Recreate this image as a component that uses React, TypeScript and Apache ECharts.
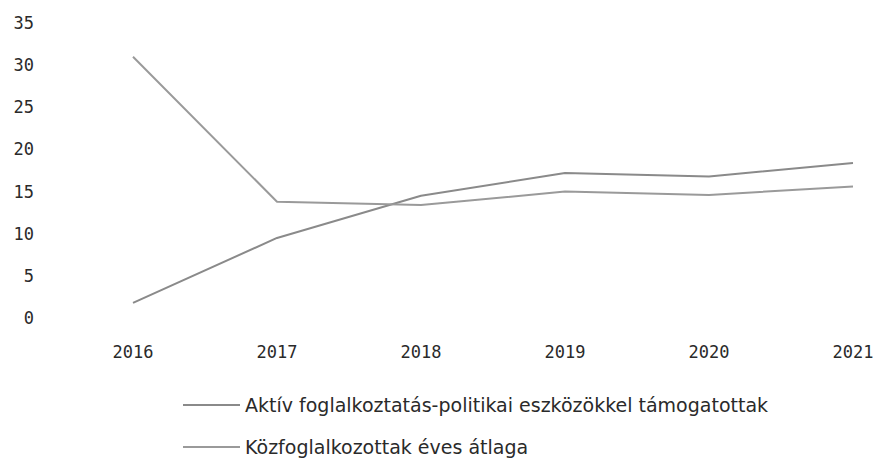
import React, { useEffect, useRef } from "react";
import * as echarts from "echarts";

const years = ["2016", "2017", "2018", "2019", "2020", "2021"];
const aktivValues = [1.8, 9.5, 14.5, 17.2, 16.8, 18.4];
const kozfogValues = [31.0, 13.8, 13.4, 15.0, 14.6, 15.6];
const seriesNames = [
  "Aktív foglalkoztatás-politikai eszközökkel támogatottak",
  "Közfoglalkozottak éves átlaga",
];

export default function App() {
  const ref = useRef<HTMLDivElement>(null);
  useEffect(() => {
    if (!ref.current) return;
    const chart = echarts.init(ref.current, null, { renderer: "svg" });
    const legendText = {
      color: "#2a2a2a",
      fontFamily: "DejaVu Sans",
      fontSize: 19,
      lineHeight: 20,
    };
    const legendCommon = {
      orient: "horizontal",
      left: 183,
      padding: 0,
      itemWidth: 57,
      itemHeight: 12,
      icon: "path://M0,5 L57,5 L57,7 L0,7 Z",
      textStyle: legendText,
    };
    chart.setOption({
      animation: false,
      backgroundColor: "#ffffff",
      grid: { left: 133, right: 28, top: 23, bottom: 141, containLabel: false },
      xAxis: {
        type: "category",
        data: years,
        boundaryGap: false,
        axisLine: { show: false },
        axisTick: { show: false },
        axisLabel: { color: "#2a2a2a", fontFamily: "DejaVu Sans Mono", fontSize: 17, margin: 25 },
      },
      yAxis: {
        type: "value",
        min: 0,
        max: 35,
        interval: 5,
        splitLine: { show: false },
        axisLine: { show: false },
        axisTick: { show: false },
        axisLabel: { color: "#2a2a2a", fontFamily: "DejaVu Sans Mono", fontSize: 17, margin: 99 },
      },
      legend: [
        { ...legendCommon, top: 395, data: [seriesNames[0]] },
        { ...legendCommon, top: 437, data: [seriesNames[1]] },
      ],
      series: [
        {
          name: seriesNames[0],
          type: "line",
          data: aktivValues,
          symbol: "none",
          lineStyle: { color: "#8a8a8a", width: 2 },
          itemStyle: { color: "#8a8a8a" },
        },
        {
          name: seriesNames[1],
          type: "line",
          data: kozfogValues,
          symbol: "none",
          lineStyle: { color: "#9a9a9a", width: 2 },
          itemStyle: { color: "#9a9a9a" },
        },
      ],
    });
    return () => chart.dispose();
  }, []);
  return (
    <div
      ref={ref}
      style={{ position: "fixed", left: 0, top: 0, width: 881, height: 459 }}
    />
  );
}
